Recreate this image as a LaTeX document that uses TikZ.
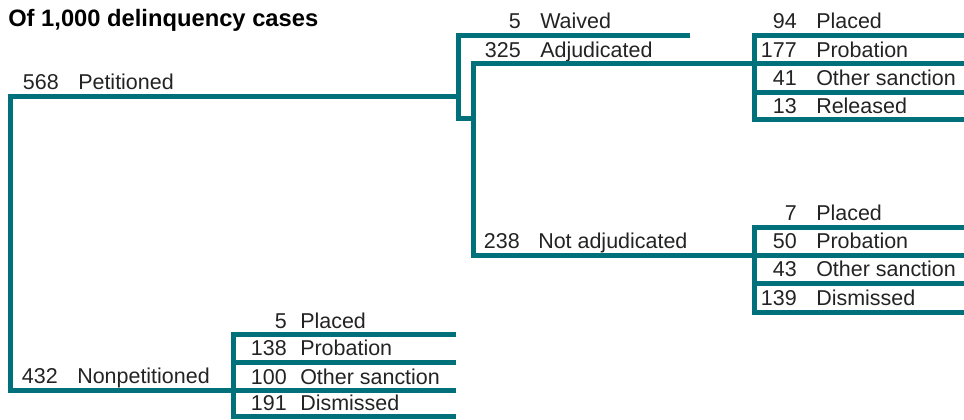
\documentclass[tikz,border=0pt]{standalone}
\usepackage{fontspec}
\setmainfont{Liberation Sans}
\definecolor{branchcol}{RGB}{0,112,122}
\definecolor{textcol}{RGB}{35,35,35}

\begin{document}
\begin{tikzpicture}[x=0.75pt, y=-0.75pt]
    \tikzstyle{branch} = [draw=branchcol, line width=3.75pt, line join=miter, line cap=butt]
    \tikzstyle{num} = [anchor=base east, inner sep=0pt, text=textcol, font=\fontsize{16.1}{18}\selectfont]
    \tikzstyle{lab} = [anchor=base west, inner sep=0pt, text=textcol, font=\fontsize{16.1}{18}\selectfont]
    \tikzstyle{title} = [anchor=base west, inner sep=0pt, font=\fontsize{17.8}{20}\selectfont\bfseries]

    \useasboundingbox (0,0) rectangle (964,419);

    % Title
    \node [title] (head) at (8,26.5) {Of 1,000 delinquency cases};

    % Nodes
    \node [num] (n568) at (59,89.5) {568};
    \node [lab] (petitioned) at (78,89.5) {Petitioned};
    \node [num] (n432) at (58,383.5) {432};
    \node [lab] (nonpetitioned) at (77,383.5) {Nonpetitioned};

    \node [num] (n5w) at (521,28) {5};
    \node [lab] (waived) at (540,28) {Waived};
    \node [num] (n325) at (521,57) {325};
    \node [lab] (adjudicated) at (540,57) {Adjudicated};
    \node [num] (n238) at (520,248.5) {238};
    \node [lab] (notadj) at (538,248.5) {Not adjudicated};

    \node [num] (n94) at (797,28) {94};
    \node [lab] (adjPlaced) at (816,28) {Placed};
    \node [num] (n177) at (797,57) {177};
    \node [lab] (adjProb) at (816,57) {Probation};
    \node [num] (n41) at (797,85.5) {41};
    \node [lab] (adjOther) at (816,85.5) {Other sanction};
    \node [num] (n13) at (797,113) {13};
    \node [lab] (adjRel) at (816,113) {Released};

    \node [num] (n7) at (797,220.5) {7};
    \node [lab] (naPlaced) at (816,220.5) {Placed};
    \node [num] (n50) at (797,248.5) {50};
    \node [lab] (naProb) at (816,248.5) {Probation};
    \node [num] (n43) at (797,276.5) {43};
    \node [lab] (naOther) at (816,276.5) {Other sanction};
    \node [num] (n139) at (797,305.5) {139};
    \node [lab] (naDism) at (816,305.5) {Dismissed};

    \node [num] (n5p) at (287,328) {5};
    \node [lab] (npPlaced) at (300,328) {Placed};
    \node [num] (n138) at (287,355.5) {138};
    \node [lab] (npProb) at (300,355.5) {Probation};
    \node [num] (n100) at (287,384) {100};
    \node [lab] (npOther) at (300,384) {Other sanction};
    \node [num] (n191) at (287,410) {191};
    \node [lab] (npDism) at (300,410) {Dismissed};

    % Junctions
    \coordinate (rootTop) at (10,96);
    \coordinate (rootBot) at (10,390.5);
    \coordinate (petEnd) at (458,96);
    \coordinate (petTop) at (458,35);
    \coordinate (petBot) at (458,118);
    \coordinate (waivEnd) at (690,35);
    \coordinate (adjTop) at (473,63.5);
    \coordinate (adjJog) at (473,118);
    \coordinate (naBot) at (473,255);

    \coordinate (aA) at (754,35);
    \coordinate (aB) at (754,63.5);
    \coordinate (aC) at (754,92);
    \coordinate (aD) at (754,119.5);
    \coordinate (aAr) at (968,35);
    \coordinate (aBr) at (968,63.5);
    \coordinate (aCr) at (968,92);
    \coordinate (aDr) at (968,119.5);

    \coordinate (nA) at (754,227);
    \coordinate (nB) at (754,255);
    \coordinate (nC) at (754,283);
    \coordinate (nD) at (754,312);
    \coordinate (nAr) at (968,227);
    \coordinate (nBr) at (968,255);
    \coordinate (nCr) at (968,283);
    \coordinate (nDr) at (968,312);

    \coordinate (pA) at (233,334.5);
    \coordinate (pB) at (233,362);
    \coordinate (pC) at (233,390.5);
    \coordinate (pD) at (233,416.5);
    \coordinate (pAr) at (456,334.5);
    \coordinate (pBr) at (456,362);
    \coordinate (pCr) at (456,390.5);
    \coordinate (pDr) at (456,416.5);

    % Paths
    \path [branch] (petEnd) -- (rootTop) -- (rootBot) -- (pC);
    \path [branch] (waivEnd) -- (petTop) -- (petBot) -- (adjJog);
    \path [branch] (aB) -- (adjTop) -- (naBot) -- (nB);

    \path [branch] (aAr) -- (aA) -- (aD) -- (aDr);
    \path [branch] (aB) -- (aBr);
    \path [branch] (aC) -- (aCr);

    \path [branch] (nAr) -- (nA) -- (nD) -- (nDr);
    \path [branch] (nB) -- (nBr);
    \path [branch] (nC) -- (nCr);

    \path [branch] (pAr) -- (pA) -- (pD) -- (pDr);
    \path [branch] (pB) -- (pBr);
    \path [branch] (pC) -- (pCr);

\end{tikzpicture}
\end{document}
